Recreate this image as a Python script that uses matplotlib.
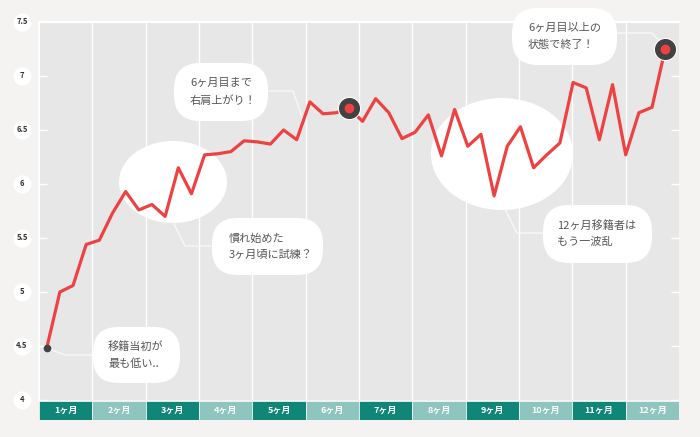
"""Weekly score after transfer, 12 months, with speech-bubble notes."""

import matplotlib.pyplot as plt
import matplotlib.transforms as mtransforms
from matplotlib.patches import Ellipse, FancyBboxPatch

plt.rcParams['font.family'] = ['Noto Sans CJK JP', 'DejaVu Sans']

W, H = 700, 437

# 4 points per month, 48 weeks
WEEKS = list(range(48))
SCORES = [
    4.48, 5.00, 5.06, 5.44, 5.48, 5.73, 5.93, 5.76, 5.81, 5.70, 6.15, 5.91,
    6.27, 6.28, 6.30, 6.40, 6.39, 6.37, 6.50, 6.41, 6.76, 6.65, 6.66, 6.70,
    6.58, 6.79, 6.66, 6.42, 6.48, 6.64, 6.26, 6.69, 6.35, 6.46, 5.89, 6.35,
    6.53, 6.15, 6.27, 6.38, 6.94, 6.89, 6.41, 6.92, 6.27, 6.66, 6.71, 7.25,
]
HIGHLIGHT = [23, 47]

MONTHS = ["1ヶ月", "2ヶ月", "3ヶ月", "4ヶ月", "5ヶ月", "6ヶ月",
          "7ヶ月", "8ヶ月", "9ヶ月", "10ヶ月", "11ヶ月", "12ヶ月"]
Y_TICKS = [4, 4.5, 5, 5.5, 6, 6.5, 7, 7.5]
Y_LABELS = ["4", "4.5", "5", "5.5", "6", "6.5", "7", "7.5"]

NOTES = [
    "移籍当初が\n最も低い..",
    "慣れ始めた\n3ヶ月頃に試練？",
    "6ヶ月目まで\n右肩上がり！",
    "6ヶ月目以上の\n状態で終了！",
    "12ヶ月移籍者は\nもう一波乱",
]

RED = "#ee4242"
DARK = "#424242"
TEAL_DARK = "#108679"
TEAL_LIGHT = "#8ec5be"

fig = plt.figure(figsize=(W / 100, H / 100), dpi=100, facecolor="#f4f3f1")
ax = fig.add_axes([39 / W, 1 - 400 / H, 640 / W, 378 / H])
ax.set_facecolor("#e7e7e7")

# pixel coords of the picture (y downwards), for decorations only
PX = mtransforms.Affine2D().scale(1 / W, -1 / H).translate(0, 1) + fig.transFigure

x0, x1 = -0.585, 48.05
ax.set_xlim(x0, x1)
ax.set_ylim(4, 7.5)

for s in ["right", "bottom"]:
    ax.spines[s].set_visible(False)
for s in ["top", "left"]:
    ax.spines[s].set_color("white")
    ax.spines[s].set_linewidth(1.5)

for k in range(1, 12):
    ax.axvline(x0 + k * (x1 - x0) / 12, color="white", lw=1, zorder=1)

ax.set_xticks([])
ax.set_yticks(Y_TICKS)
ax.set_yticklabels([])
ax.tick_params(axis="y", direction="in", length=6, width=1, colors="white",
               left=True, right=True)

# round y labels
ytrans = mtransforms.blended_transform_factory(PX, ax.transData)
for v, lab in zip(Y_TICKS, Y_LABELS):
    ax.plot(22, v, "o", ms=13, mfc="white", mec="none", transform=ytrans,
            clip_on=False, zorder=5)
    ax.text(22, v, lab, transform=ytrans, ha="center", va="center",
            fontsize=5.5, color="#333333", fontweight="bold", zorder=6)

# highlight ellipses (behind the line)
for (cx, cy, ew, eh) in [(173, 182, 108, 82), (502, 154, 142, 112)]:
    ax.add_patch(Ellipse((cx, cy), ew, eh, transform=PX, fc="white",
                         ec="none", zorder=2))

ax.plot(WEEKS, SCORES, color=RED, lw=2.3, zorder=4)
ax.plot(WEEKS[0], SCORES[0], "o", ms=4.5, color=DARK, zorder=5)
for i in HIGHLIGHT:
    ax.plot(WEEKS[i], SCORES[i], "o", ms=16, mfc=DARK, mec="white", mew=0.8,
            zorder=5, clip_on=False)
    ax.plot(WEEKS[i], SCORES[i], "o", ms=6, color=RED, zorder=6, clip_on=False)

# bubbles: box (left, top, w, h), text left x, leader path
bubbles = [
    ((93, 327, 87, 56), 108, [(47, 348), (65, 355), (93, 355)]),
    ((212, 218, 111, 57), 229, [(173, 222), (185, 246), (212, 246)]),
    ((174, 63, 94, 58), 190, [(268, 91), (293, 91), (303, 120)]),
    ((512, 8, 105, 57), 528, [(617, 33), (652, 33), (665, 47)]),
    ((543, 205, 109, 58), 557, [(505, 209), (517, 233), (543, 233)]),
]
for note, ((bx, by, bw, bh), tx, path) in zip(NOTES, bubbles):
    xs = [p[0] for p in path]
    ys = [p[1] for p in path]
    ax.plot(xs, ys, transform=PX, color="#f8f8f8", lw=1, zorder=3,
            clip_on=False)
    ax.add_patch(FancyBboxPatch((bx, by), bw, bh,
                                boxstyle=f"round,pad=0,rounding_size={bh * 0.45}",
                                transform=PX, fc="white", ec="none", zorder=3,
                                clip_on=False))
    ax.text(tx, by + bh / 2, note, transform=PX, ha="left", va="center",
            fontsize=8, color="#555555", linespacing=1.75, zorder=7)

# month band
bax = fig.add_axes([39 / W, 1 - 419.5 / H, 640 / W, 19 / H])
colors = [TEAL_DARK if i % 2 == 0 else TEAL_LIGHT for i in range(12)]
bax.bar(range(12), [1] * 12, width=1, color=colors, edgecolor="white",
        linewidth=0.5)
bax.set_xlim(-0.5, 11.5)
bax.set_ylim(0, 1)
bax.axis("off")
for i, m in enumerate(MONTHS):
    bax.text(i, 0.5, m, ha="center", va="center", color="white",
             fontsize=6.5, fontweight="bold")

fig.savefig("out.png", dpi=100, facecolor=fig.get_facecolor())
